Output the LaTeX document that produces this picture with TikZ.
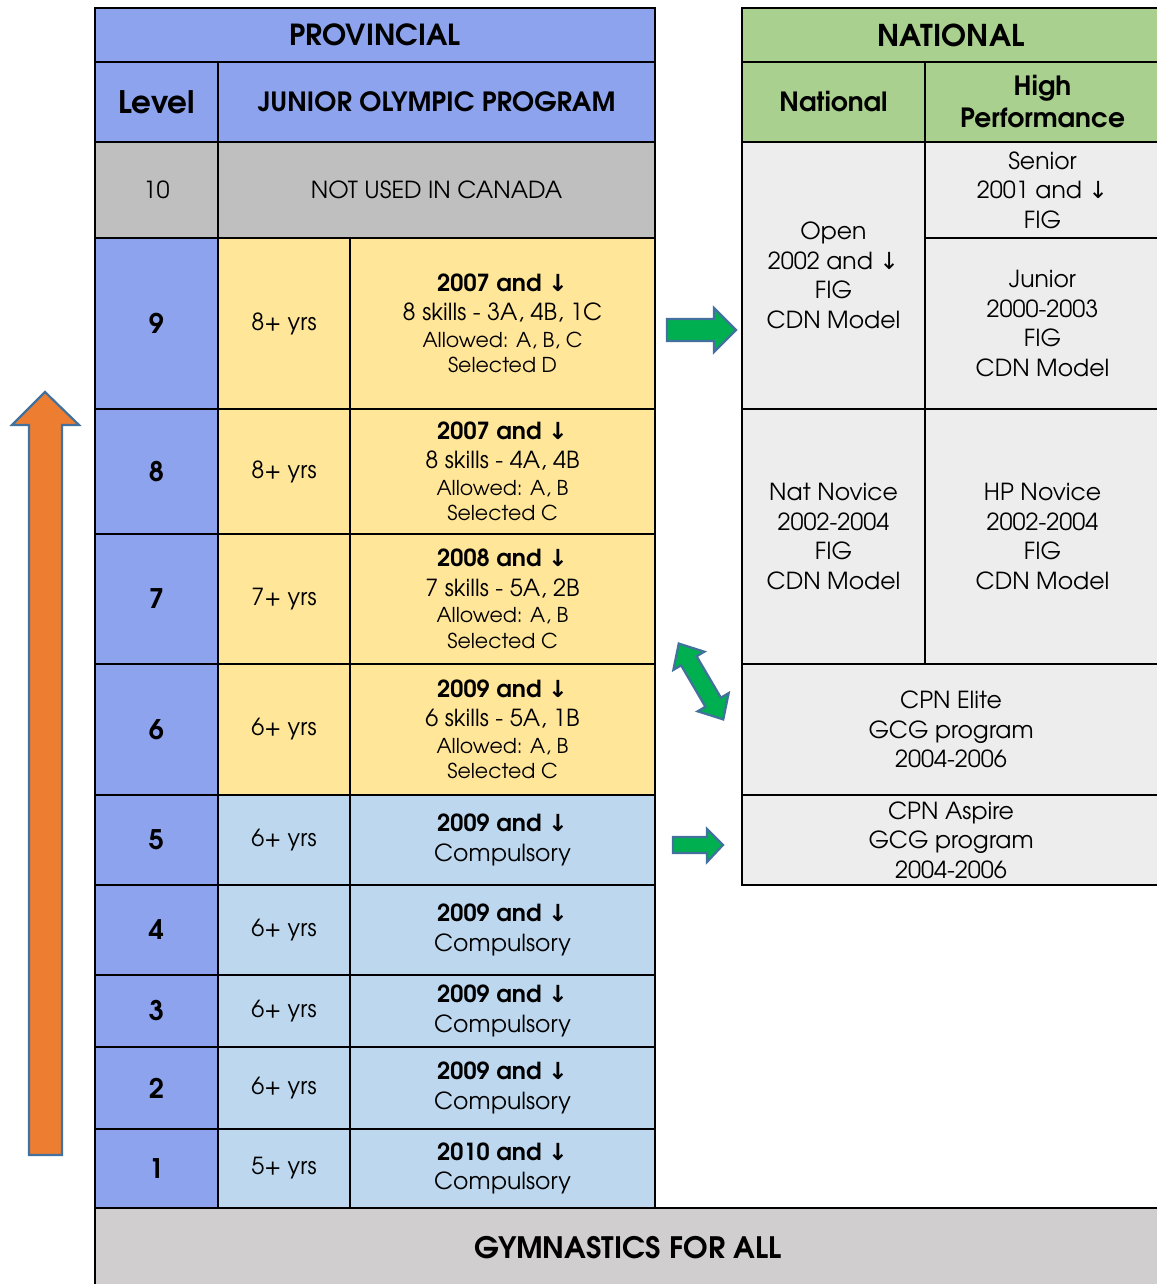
\documentclass[tikz,border=0pt]{standalone}
\usepackage{fontspec}
\setmainfont{texgyreadventor}[Extension=.otf, UprightFont=*-regular, BoldFont=*-bold]
\newfontfamily\arrowfont{DejaVu Sans}
\newcommand\dn{{\arrowfont ↓}}
\newcommand\bodyfont{\fontsize{23.5}{29.5}\selectfont}
\newcommand\smallbody{\fontsize{20.5}{25}\selectfont}
\definecolor{hdrblue}{RGB}{141,163,237}
\definecolor{jopyellow}{RGB}{255,230,153}
\definecolor{joplight}{RGB}{189,215,238}
\definecolor{unused}{RGB}{191,191,191}
\definecolor{natgray}{RGB}{237,237,237}
\definecolor{natgreen}{RGB}{169,208,142}
\definecolor{gfagray}{RGB}{208,206,206}
\definecolor{uporange}{RGB}{237,125,49}
\definecolor{edgeblue}{RGB}{65,113,156}
\definecolor{gogreen}{RGB}{0,176,80}
\tikzset{
  cell/.style={
    draw,
    line width=2.6pt,
    inner sep=0pt,
    outer sep=0pt,
    align=center,
    font=\bodyfont
  },
  headcell/.style={
    cell,
    font=\fontsize{29}{32}\selectfont\bfseries
  },
  subhead/.style={
    headcell,
    font=\fontsize{26.5}{32}\selectfont\bfseries
  },
  levelcell/.style={
    cell,
    fill=hdrblue,
    minimum width=123pt,
    font=\fontsize{27}{30}\selectfont\bfseries
  },
  fatarrow/.style={
    draw=edgeblue,
    line width=2.2pt,
    line join=miter
  }
}

\begin{document}
\begin{tikzpicture}[x=1pt,y=-1pt]
  \useasboundingbox (0,0) rectangle (1156,1284);
  % provincial side
  \node[headcell, fill=hdrblue, minimum width=560pt, minimum height=54pt] (prov) at (375,35) {PROVINCIAL};
  \node[headcell, fill=hdrblue, minimum width=123pt, minimum height=80pt, font=\fontsize{31}{34}\selectfont\bfseries] (lvlhd) at (156.5,102) {Level};
  \node[subhead, fill=hdrblue, minimum width=437pt, minimum height=80pt] (jophd) at (436.5,102) {JUNIOR OLYMPIC PROGRAM};
  \node[cell, fill=unused, minimum width=123pt, minimum height=96pt] (lv10) at (156.5,190) {10};
  \node[cell, fill=unused, minimum width=437pt, minimum height=96pt] (unused10) at (436.5,190) {NOT USED IN CANADA};
  \foreach \lv/\ya/\yb/\age/\yr/\sk/\al/\se in {
      9/238/409/8/2007/{8 skills - 3A, 4B, 1C}/{Allowed: A, B, C}/{Selected D},
      8/409/534/8/2007/{8 skills - 4A, 4B}/{Allowed: A, B}/{Selected C},
      7/534/664/7/2008/{7 skills - 5A, 2B}/{Allowed: A, B}/{Selected C},
      6/664/795/6/2009/{6 skills - 5A, 1B}/{Allowed: A, B}/{Selected C}}{
    \pgfmathsetmacro\h{\yb-\ya}
    \pgfmathsetmacro\c{(\ya+\yb)/2}
    \node[levelcell, minimum height=\h pt] (lv\lv) at (156.5,\c) {\lv};
    \node[cell, fill=jopyellow, minimum width=132pt, minimum height=\h pt] (age\lv) at (284,\c) {\age+ yrs};
    \node[cell, fill=jopyellow, minimum width=305pt, minimum height=\h pt] (desc\lv) at (502.5,\c)
      {\textbf{\yr\ and \dn}\\ \sk\\[-3pt] {\smallbody \al}\\[-4pt] {\smallbody \se}};
  }
  \foreach \lv/\ya/\yb/\age/\yr in {5/795/885/6/2009, 4/885/975/6/2009, 3/975/1047/6/2009, 2/1047/1129/6/2009, 1/1129/1208/5/2010}{
    \pgfmathsetmacro\h{\yb-\ya}
    \pgfmathsetmacro\c{(\ya+\yb)/2}
    \node[levelcell, minimum height=\h pt] (lv\lv) at (156.5,\c) {\lv};
    \node[cell, fill=joplight, minimum width=132pt, minimum height=\h pt] (age\lv) at (284,\c) {\age+ yrs};
    \node[cell, fill=joplight, minimum width=305pt, minimum height=\h pt] (desc\lv) at (502.5,\c)
      {\textbf{\yr\ and \dn}\\ Compulsory};
  }
  \node[headcell, fill=gfagray, minimum width=1105pt, minimum height=112pt, anchor=north west] (gfa) at (95,1208) {};
  \node[font=\fontsize{29.5}{32}\selectfont\bfseries] (gfatxt) at (628,1248) {GYMNASTICS FOR ALL};
  % national side
  \node[headcell, fill=natgreen, minimum width=418pt, minimum height=54pt, font=\fontsize{30}{32}\selectfont\bfseries] (nat) at (951,35) {NATIONAL};
  \node[subhead, fill=natgreen, minimum width=183pt, minimum height=80pt] (nathd) at (833.5,102) {National};
  \node[subhead, fill=natgreen, minimum width=235pt, minimum height=80pt] (hphd) at (1042.5,102) {High\\Performance};
  \node[cell, fill=natgray, minimum width=183pt, minimum height=267pt] (open) at (833.5,275.5) {Open\\2002 and \dn\\FIG\\CDN Model};
  \node[cell, fill=natgray, minimum width=235pt, minimum height=96pt] (senior) at (1042.5,190) {Senior\\2001 and \dn\\FIG};
  \node[cell, fill=natgray, minimum width=235pt, minimum height=171pt] (junior) at (1042.5,323.5) {Junior\\2000-2003\\FIG\\CDN Model};
  \node[cell, fill=natgray, minimum width=183pt, minimum height=255pt] (natnov) at (833.5,536.5) {Nat Novice\\2002-2004\\FIG\\CDN Model};
  \node[cell, fill=natgray, minimum width=235pt, minimum height=255pt] (hpnov) at (1042.5,536.5) {HP Novice\\2002-2004\\FIG\\CDN Model};
  \node[cell, fill=natgray, minimum width=418pt, minimum height=131pt] (elite) at (951,729.5) {CPN Elite\\GCG program\\2004-2006};
  \node[cell, fill=natgray, minimum width=418pt, minimum height=90pt] (aspire) at (951,840) {CPN Aspire\\GCG program\\2004-2006};
  % arrows
  \draw[fatarrow, fill=uporange] (29,1155) -- (29,425) -- (12,425) -- (45,392) -- (79,425) -- (62,425) -- (62,1155) -- cycle;
  \draw[fatarrow, fill=gogreen] (667,319) -- (714,319) -- (714,308) -- (736,330) -- (714,352) -- (714,341) -- (667,341) -- cycle;
  \draw[fatarrow, fill=gogreen] (673,837) -- (707,837) -- (707,829) -- (723,845) -- (707,862) -- (707,853) -- (673,853) -- cycle;
  \begin{scope}[shift={(701,681.5)}, rotate=-59.6]
    \draw[fatarrow, fill=gogreen] (-44,0) -- (-24,18) -- (-24,9) -- (24,9) -- (24,18) -- (44,0) -- (24,-18) -- (24,-9) -- (-24,-9) -- (-24,-18) -- cycle;
  \end{scope}
\end{tikzpicture}
\end{document}
